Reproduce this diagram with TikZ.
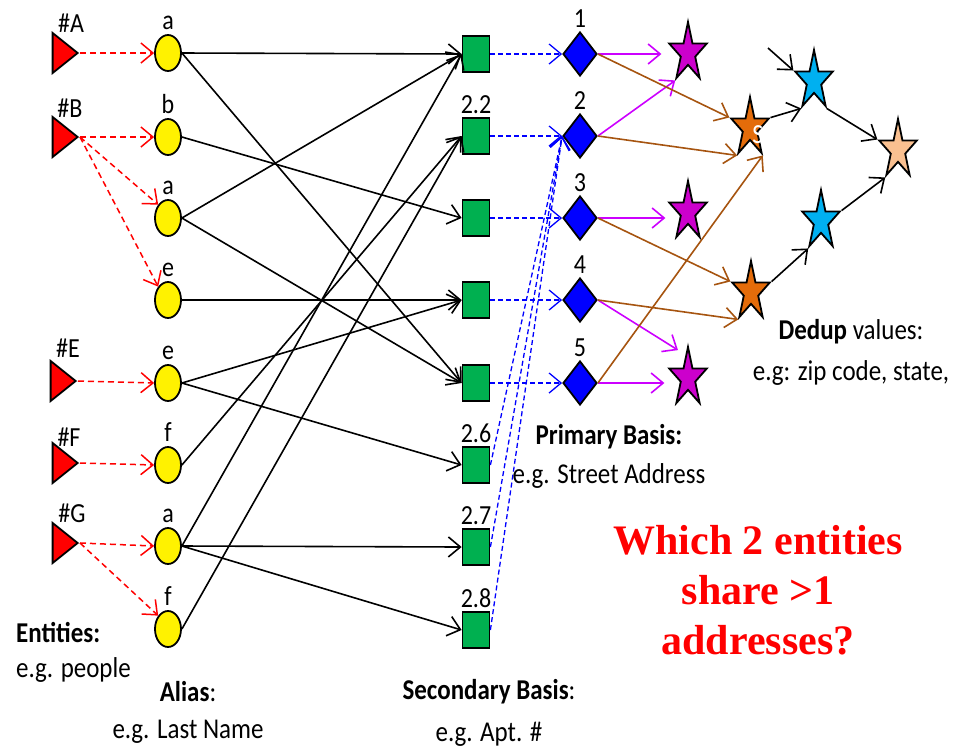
\documentclass[tikz,border=0pt]{standalone}
\usepackage{fontspec}
\setmainfont{Carlito}[FakeStretch=0.87]
\newfontfamily\serifbold{Liberation Serif}
\usetikzlibrary{shapes.geometric,arrows.meta,calc}
\definecolor{sqgreen}{RGB}{0,176,80}
\definecolor{magstar}{RGB}{204,0,204}
\definecolor{magline}{RGB}{204,0,255}
\definecolor{brownline}{RGB}{166,84,16}
\definecolor{orstar}{RGB}{228,108,10}
\definecolor{cystar}{RGB}{0,176,240}
\definecolor{pestar}{RGB}{250,192,144}
\begin{document}
\begin{tikzpicture}[x=1pt,y=-1pt,
  ent/.style={isosceles triangle, isosceles triangle stretches, shape border rotate=0,
    minimum width=40pt, minimum height=25pt, inner sep=0pt, draw=black, line width=1.8pt, fill=red},
  ali/.style={ellipse, minimum width=26pt, minimum height=36pt, inner sep=0pt, draw, line width=1.8pt, fill=yellow},
  sec/.style={rectangle, minimum width=27pt, minimum height=36pt, inner sep=0pt, draw, line width=1.8pt, fill=sqgreen},
  pri/.style={diamond, minimum width=34pt, minimum height=44pt, inner sep=0pt, draw, line width=1.8pt, fill=blue},
  dstar/.style={star, star points=5, star point ratio=2.618, minimum size=62pt, inner sep=0pt,
    draw, line width=1.8pt, xscale=0.64},
  lbl/.style={font=\fontsize{27.6}{32}\selectfont, anchor=base, inner sep=0pt},
  captxt/.style={font=\fontsize{28.7}{34}\selectfont, inner sep=0pt},
  barb/.style={-{Straight Barb[length=12pt,width=20pt]}},
  reddash/.style={barb, draw=red, line width=1.5pt, dash pattern=on 6pt off 4pt},
  bluedash/.style={barb, draw=blue, line width=1.3pt, dash pattern=on 5pt off 3pt},
  blk/.style={barb, draw=black, line width=1.6pt},
  mag/.style={barb, draw=magline, line width=1.6pt},
  brn/.style={barb, draw=brownline, line width=1.6pt}
]
\useasboundingbox (0,0) rectangle (959,748);

% entities
\node[ent, anchor=apex] (A) at (80,53) {};
\node[ent, anchor=apex] (B) at (80,137) {};
\node[ent, anchor=apex] (E) at (78,381) {};
\node[ent, anchor=apex] (F) at (80,463) {};
\node[ent, anchor=apex] (G) at (80,543) {};
\node[lbl] (lA) at ([xshift=-9pt,yshift=21pt]A.apex) {\#A};
\node[lbl] (lB) at ([xshift=-10pt,yshift=20pt]B.apex) {\#B};
\node[lbl] (lE) at ([xshift=-10pt,yshift=24pt]E.apex) {\#E};
\node[lbl] (lF) at ([xshift=-11pt,yshift=17pt]F.apex) {\#F};
\node[lbl] (lG) at ([xshift=-8pt,yshift=21pt]G.apex) {\#G};

% aliases
\node[ali] (a1) at (168,53) {};
\node[ali] (b2) at (168,137) {};
\node[ali] (a3) at (168,218) {};
\node[ali] (e4) at (168,300) {};
\node[ali] (e5) at (168,383) {};
\node[ali] (f6) at (168,465) {};
\node[ali] (a7) at (168,546) {};
\node[ali] (f8) at (168,629) {};
\foreach \n/\t in {a1/a,b2/b,a3/a,e4/e,e5/e,f6/f,a7/a,f8/f}
  \node[lbl] (l\n) at ([yshift=5pt]\n.north) {\t};

% secondary basis
\foreach \i/\y in {1/54,2/136,3/218,4/300,5/383,6/465,7/547,8/630}
  \node[sec] (s\i) at (476,\y) {};
\node[lbl] (ls2) at ([yshift=4pt]s2.north) {2.2};
\node[lbl] (ls6) at ([yshift=4pt]s6.north) {2.6};
\node[lbl] (ls7) at ([yshift=4pt]s7.north) {2.7};
\node[lbl] (ls8) at ([yshift=4pt]s8.north) {2.8};

% primary basis
\foreach \i/\y in {1/54,2/136,3/218,4/300,5/383}{
  \node[pri] (d\i) at (580,\y) {};
  \node[lbl] (ld\i) at ([yshift=4pt]d\i.north) {\i};
}

% stars
\node[dstar, fill=magstar] (m1) at (688,53) {};
\node[dstar, fill=magstar] (m2) at (688,212) {};
\node[dstar, fill=magstar] (m3) at (688,378) {};
\node[dstar, fill=orstar] (o1) at (750,128) {};
\node[dstar, fill=orstar] (o2) at (751,292) {};
\node[dstar, fill=cystar] (c1) at (814,81) {};
\node[dstar, fill=cystar] (c2) at (821,221) {};
\node[dstar, fill=pestar] (p) at (898,150) {};
\node[lbl, text=white] (sx) at (758,143) {S};
\coordinate (fr) at (768,48);

% entity -> alias
\draw[reddash] (A.apex) -- (a1.west);
\draw[reddash] (B.apex) -- (b2.west);
\draw[reddash] (B.apex) -- (a3.north west);
\draw[reddash] (B.apex) -- (e4.north west);
\draw[reddash] (E.apex) -- (e5.west);
\draw[reddash] (F.apex) -- (f6.west);
\draw[reddash] (G.apex) -- (a7.west);
\draw[reddash] (G.apex) -- (f8.north west);

% alias -> secondary
\foreach \a/\s in {a1/s1,a1/s5,b2/s3,a3/s1,a3/s5,e4/s4,e5/s4,e5/s6,f6/s2,a7/s1,a7/s7,a7/s8,f8/s2}
  \draw[blk] (\a.east) -- (\s.west);

% secondary -> primary
\foreach \i in {1,...,5}
  \draw[bluedash] (s\i.east) -- (d\i.west);
\foreach \i in {6,7,8}
  \draw[bluedash] (s\i.east) -- (d2.west);

% primary -> dedup (magenta)
\draw[mag] (d1.east) -- ($(m1.outer point 2 |- d1.east)+(-6,0)$);
\draw[mag] (d2.east) -- (m1.outer point 3);
\draw[mag] (d3.east) -- ($(m2.outer point 2 |- d3.east)+(-2,0)$);
\draw[mag] (d4.east) -- ($(m3.outer point 1)+(-10,6)$);
\draw[mag] (d5.east) -- ($(m3.outer point 2 |- d5.east)+(-3,0)$);

% primary -> dedup (brown)
\draw[brn] (d1.east) -- (o1.outer point 2);
\draw[brn] (d2.east) -- (o1.outer point 3);
\draw[brn] (d5.east) -- (o1.outer point 4);
\draw[brn] (d3.east) -- (o2.outer point 2);
\draw[brn] (d4.east) -- (o2.outer point 3);

% dedup chain
\draw[blk] (fr) -- (c1.outer point 2);
\draw[blk] (o1.outer point 5) -- (c1.outer point 3);
\draw[blk] (c1.outer point 4) -- (p.outer point 2);
\draw[blk] (c2.outer point 5) -- (p.outer point 3);
\draw[blk] (o2.outer point 5) -- (c2.outer point 3);

% captions
\node[captxt, anchor=west] (t1) at (16,633) {\textbf{Entities:}};
\node[captxt, anchor=west] (t2) at (16,670) {e.g. people};
\node[captxt] (t3) at (188,692) {\textbf{Alias}:};
\node[captxt] (t4) at (188,732) {e.g. Last Name};
\node[captxt] (t5) at (489,692) {\textbf{Secondary Basis}:};
\node[captxt] (t6) at (489,734) {e.g. Apt. \#};
\node[captxt] (t7) at (609,437) {\textbf{Primary Basis:}};
\node[captxt] (t8) at (609,476) {e.g. Street Address};
\node[captxt] (t9) at (851,332) {\textbf{Dedup} values:};
\node[captxt] (t10) at (851,373) {e.g: zip code, state,};
\node[font=\serifbold\bfseries\fontsize{42}{50}\selectfont, text=red, align=center, inner sep=0pt] (q) at (758,590)
  {Which 2 entities\\share >1\\addresses?};
\end{tikzpicture}
\end{document}
